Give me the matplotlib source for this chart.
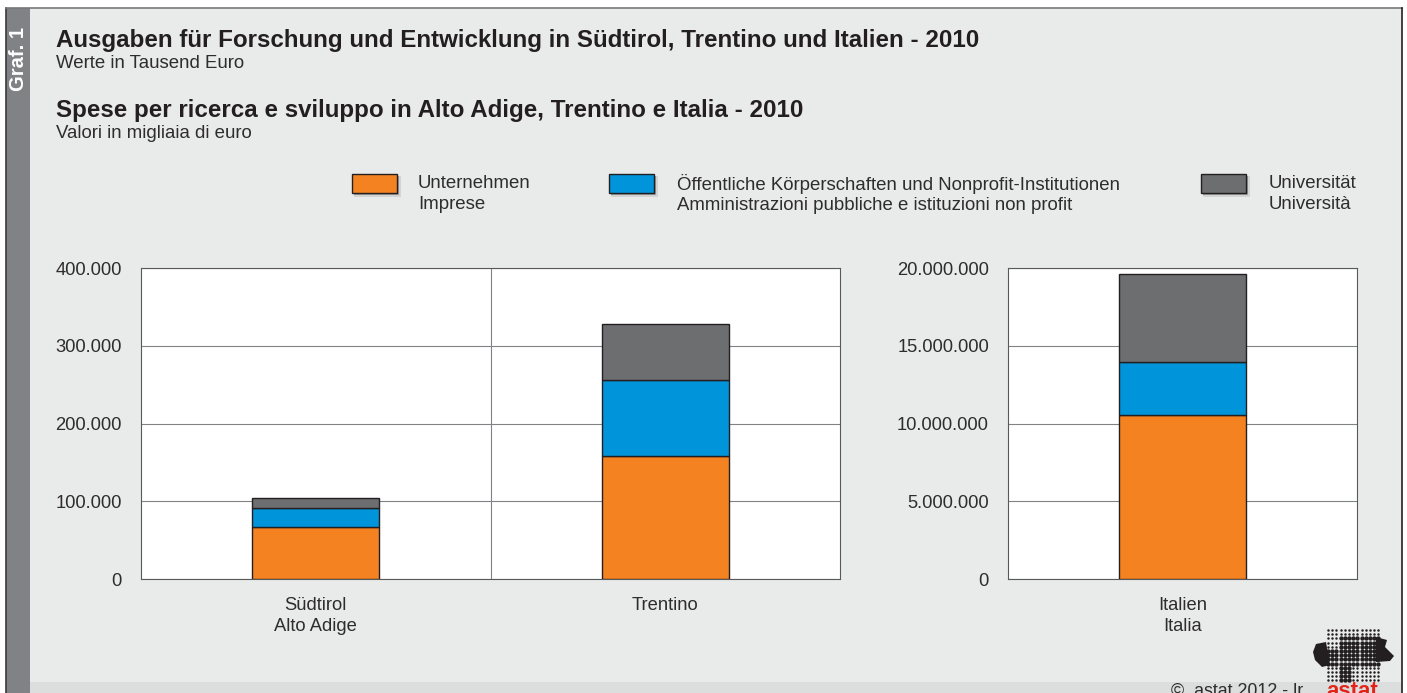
import matplotlib as mpl
mpl.use('Agg')
mpl.rcParams['font.family'] = ['Liberation Sans', 'DejaVu Sans']
import matplotlib.pyplot as plt
from matplotlib.patches import Rectangle, Polygon
import numpy as np

W, H = 1407, 693

regions_left = ["Südtirol\nAlto Adige", "Trentino"]
regions_right = ["Italien\nItalia"]
firms_left = [67000, 158000]
public_left = [24000, 98000]
uni_left = [13000, 72000]
firms_right = [10550000]
public_right = [3400000]
uni_right = [5650000]
ticks_left = [0, 100000, 200000, 300000, 400000]
ticks_right = [0, 5000000, 10000000, 15000000, 20000000]

colors = ['#f58220', '#0095da', '#6d6e70']
edge = '#231f20'
txt = '#2e2c2d'


def fmt(v):
  return f"{v:,}".replace(",", ".")


def px_axes(fig, x0, y0, x1, y1):
  return fig.add_axes([x0 / W, 1 - y1 / H, (x1 - x0) / W, (y1 - y0) / H])


def stacked(ax, cats, a, b, c, ticks):
  x = np.arange(len(cats))
  bottom = np.zeros(len(cats))
  for vals, col in zip([a, b, c], colors):
    ax.bar(x, vals, 0.362, bottom=bottom, color=col, edgecolor=edge, lw=1, zorder=3)
    bottom = bottom + np.array(vals)
  ax.set_xlim(-0.5, len(cats) - 0.5)
  ax.set_ylim(ticks[0], ticks[-1])
  ax.set_yticks(ticks)
  ax.set_yticklabels([fmt(t) for t in ticks], fontsize=13.2, color=txt)
  ax.set_xticks(x)
  ax.set_xticklabels(cats, fontsize=13.2, color=txt, linespacing=1.28)
  ax.set_xticks(np.arange(0.5, len(cats) - 0.5), minor=True)
  ax.tick_params(axis='y', length=0, pad=13.7)
  ax.tick_params(axis='x', which='major', length=0, pad=13)
  ax.tick_params(axis='x', which='minor', length=0)
  ax.grid(axis='y', color='#808285', lw=0.8, zorder=1)
  ax.grid(axis='x', which='minor', color='#808285', lw=0.8, zorder=1)
  ax.set_axisbelow(True)
  ax.set_facecolor('white')
  for s in ax.spines.values():
    s.set_linewidth(0.8)
    s.set_color('#58595b')


fig = plt.figure(figsize=(W / 100, H / 100), dpi=100, facecolor='white')

# background layer in pixel coordinates
bg = fig.add_axes([0, 0, 1, 1], zorder=0)
bg.set_xlim(0, W)
bg.set_ylim(H, 0)
bg.axis('off')
bg.add_patch(Rectangle((6, 8), 1396, H, fc='#e9ebea', ec='none'))
bg.add_patch(Rectangle((30, 682), 1372, 12, fc='#dcdedd', ec='none'))
bg.add_patch(Rectangle((6, 8), 24, H, fc='#808285', ec='none'))
bg.plot([6, 6], [8, H], color='#3a3a3c', lw=1.2)
bg.plot([6, 1402], [8, 8], color='#77787b', lw=1.2)
bg.plot([1402, 1402], [8, H], color='#231f20', lw=1.2)
bg.text(18, 59, "Graf. 1", rotation=90, color='white', fontsize=14.5, fontweight='bold',
        ha='center', va='center')

bg.text(56, 40, "Ausgaben für Forschung und Entwicklung in Südtirol, Trentino und Italien - 2010",
        fontsize=17.35, fontweight='bold', color=edge, va='center')
bg.text(56, 64, "Werte in Tausend Euro", fontsize=13.4, color=txt, va='center')
bg.text(56, 110, "Spese per ricerca e sviluppo in Alto Adige, Trentino e Italia - 2010",
        fontsize=17.35, fontweight='bold', color=edge, va='center')
bg.text(56, 134, "Valori in migliaia di euro", fontsize=13.4, color=txt, va='center')

# legend
legend_items = [(352, 418, "Unternehmen\nImprese"),
                (609, 677, "Öffentliche Körperschaften und Nonprofit-Institutionen\nAmministrazioni pubbliche e istituzioni non profit"),
                (1201, 1269, "Universität\nUniversità")]
for (bx, tx, label), col in zip(legend_items, colors):
  bg.add_patch(Rectangle((bx + 2, 176), 46.5, 20.5, fc='#d2d3d3', ec='none'))
  bg.add_patch(Rectangle((bx + 1.5, 175.5), 45.5, 19.5, fc='#98999a', ec='none'))
  bg.add_patch(Rectangle((bx, 174), 45, 19, fc=col, ec=edge, lw=1))
  bg.text(tx, 194, label, fontsize=13.4, color=txt, va='center', linespacing=1.3)

# footer + logo
bg.text(1303, 696, "©  astat 2012 - lr", fontsize=12.9, color=txt, ha='right', va='baseline')
gx, gy = np.meshgrid(np.arange(1328, 1380, 4.2), np.arange(630, 682, 4.2))
bg.scatter(gx.ravel(), gy.ravel(), s=3.2, color='#231f20', lw=0)
bg.add_patch(Polygon([(1313, 652), (1316, 644), (1326, 642), (1330, 665), (1322, 667), (1315, 660)],
                     fc='#231f20', ec='none'))
bg.add_patch(Polygon([(1376, 637), (1387, 640), (1385, 647), (1394, 656), (1390, 661), (1376, 662)],
                     fc='#231f20', ec='none'))
keep = ((gy > 650) & (gy < 664)) | ((gy > 636) & (gy < 664) & (gx > 1340))
bg.scatter(gx[keep], gy[keep], s=10, color='#231f20', lw=0)
tip = (gy >= 664) & (gy < 681) & (gx > 1339) & (gx < 1353)
bg.scatter(gx[tip], gy[tip], s=10, color='#231f20', lw=0)
bg.text(1352, 697, "astat", fontsize=16, fontweight='bold', color='#e2231a', ha='center', va='baseline')

ax1 = px_axes(fig, 141, 268, 840, 579)
ax1.set_zorder(2)
stacked(ax1, regions_left, firms_left, public_left, uni_left, ticks_left)
ax2 = px_axes(fig, 1008, 268, 1357, 579)
ax2.set_zorder(2)
stacked(ax2, regions_right, firms_right, public_right, uni_right, ticks_right)

fig.savefig('out.png', dpi=100)
